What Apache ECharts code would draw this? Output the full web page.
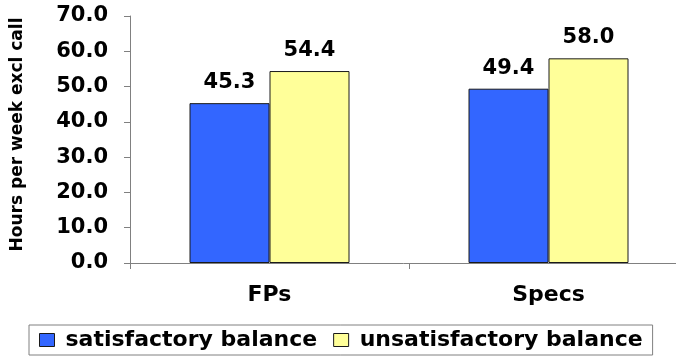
<!DOCTYPE html>
<html>
<head>
<meta charset="utf-8">
<script src="https://cdn.jsdelivr.net/npm/echarts@6/dist/echarts.min.js"></script>
<style>
  html, body { margin: 0; padding: 0; background: #fff; }
  #main { width: 676px; height: 358px; }
</style>
</head>
<body>
<div id="main"></div>
<script>
// chart data
let categories = ['FPs', 'Specs']
let seriesNames = ['satisfactory balance', 'unsatisfactory balance']
let satisfactory = [45.3, 49.4]
let unsatisfactory = [54.4, 58.0]
let yTicks = [0, 10, 20, 30, 40, 50, 60, 70]

let font = 'DejaVu Sans'
let myChart = echarts.init(document.getElementById('main'))

myChart.setOption({
    animation: false,
    backgroundColor: '#fff',
    grid: {
        left: 130,
        top: 16,
        width: 558,
        bottom: 95,
        outerBoundsMode: 'none'
    },
    legend: {
        left: 29,
        top: 325,
        padding: [4, 10, 4, 10],
        itemGap: 16,
        itemWidth: 15,
        itemHeight: 13,
        icon: 'rect',
        borderColor: '#808080',
        borderWidth: 1,
        data: seriesNames,
        itemStyle: { borderColor: '#1a1a1a', borderWidth: 1 },
        textStyle: {
            fontFamily: font,
            fontWeight: 'bold',
            fontSize: 22,
            color: '#000',
            padding: [0, 0, 0, 6]
        }
    },
    xAxis: {
        type: 'category',
        data: categories,
        axisLine: { lineStyle: { color: '#808080', width: 1 } },
        axisTick: { show: true, length: 6, lineStyle: { color: '#808080' } },
        axisLabel: {
            margin: 21,
            fontFamily: font,
            fontWeight: 'bold',
            fontSize: 22,
            color: '#000'
        }
    },
    yAxis: {
        type: 'value',
        min: yTicks[0],
        max: yTicks[yTicks.length - 1],
        interval: 10,
        name: 'Hours per week excl call',
        nameLocation: 'middle',
        nameGap: 104,
        nameTextStyle: {
            fontFamily: font,
            fontWeight: 'bold',
            fontSize: 17,
            color: '#000',
            padding: [0, 0, 0, 10]
        },
        splitLine: { show: false },
        axisLine: { show: true, lineStyle: { color: '#808080', width: 1 } },
        axisTick: { show: true, length: 6, lineStyle: { color: '#808080' } },
        axisLabel: {
            margin: 22,
            fontFamily: font,
            fontWeight: 'bold',
            fontSize: 21,
            color: '#000',
            formatter: function (v) { return v.toFixed(1) }
        }
    },
    series: [
        {
            name: seriesNames[0],
            type: 'bar',
            data: satisfactory,
            barWidth: 80,
            barGap: '0%',
            itemStyle: { color: '#3366FF', borderColor: '#1a1a1a', borderWidth: 1, borderRadius: 0 },
            label: {
                show: true,
                position: 'top',
                distance: 10,
                fontFamily: font,
                fontWeight: 'bold',
                fontSize: 21,
                color: '#000',
                formatter: function (p) { return p.value.toFixed(1) }
            }
        },
        {
            name: seriesNames[1],
            type: 'bar',
            data: unsatisfactory,
            barWidth: 80,
            barGap: '0%',
            itemStyle: { color: '#FFFF99', borderColor: '#1a1a1a', borderWidth: 1, borderRadius: 0 },
            label: {
                show: true,
                position: 'top',
                distance: 10,
                fontFamily: font,
                fontWeight: 'bold',
                fontSize: 21,
                color: '#000',
                formatter: function (p) { return p.value.toFixed(1) }
            }
        }
    ]
})

window.onresize = function () {
    myChart.resize()
}
</script>
</body>
</html>
